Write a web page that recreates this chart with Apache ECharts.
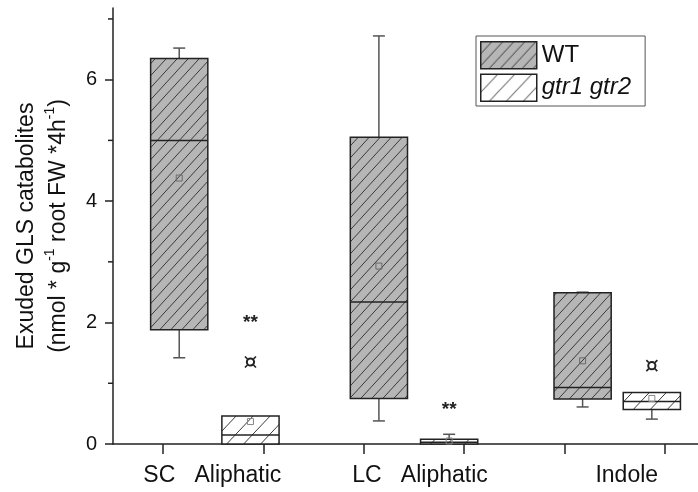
<!DOCTYPE html>
<html>
<head>
<meta charset="utf-8">
<script src="https://cdn.jsdelivr.net/npm/echarts@6/dist/echarts.min.js"></script>
<style>
html, body { margin: 0; padding: 0; background: #fff; }
#chart { width: 698px; height: 492px; }
</style>
</head>
<body>
<div id="chart"></div>
<script>
// Kategorien und Positionen auf der x-Achse (Achseneinheiten)
var categories = ['SC   Aliphatic', 'LC   Aliphatic', 'Indole'];
var seriesNames = ['WT', 'gtr1 gtr2'];
var wtPos = [0.66, 2.65, 4.68];
var gtrPos = [1.37, 3.35, 5.37];
var labelPos = [0.99, 3.06, 5.12];
var xTicks = [0.5, 1.5, 2.5, 3.5, 4.5, 5.5];
var yLabels = [0, 2, 4, 6];
var yMinor = [1, 3, 5, 7];

// Boxplot-Werte: min, Q1, Median, Q3, max, Mittelwert
var wtMin = [1.42, 0.38, 0.61];
var wtQ1 = [1.88, 0.75, 0.74];
var wtMed = [5.0, 2.34, 0.93];
var wtQ3 = [6.35, 5.05, 2.49];
var wtMax = [6.52, 6.72, 2.50];
var wtMean = [4.38, 2.93, 1.37];

var gtrMin = [0, 0, 0.41];
var gtrQ1 = [0, 0, 0.57];
var gtrMed = [0.15, 0.03, 0.70];
var gtrQ3 = [0.46, 0.08, 0.85];
var gtrMax = [0.46, 0.16, 0.85];
var gtrMean = [0.37, 0.05, 0.75];

// Ausreisser und Signifikanz-Sterne
var outlierX = [1.37, 5.37];
var outlierY = [1.35, 1.29];
var starX = [1.37, 3.35];
var starY = [2.0, 0.56];

var FONT = 'Liberation Sans, Arial, sans-serif';

// Schraffur als Canvas-Muster
function hatch(bg, w, h, lineColor) {
	var c = document.createElement('canvas');
	c.width = w; c.height = h;
	var g = c.getContext('2d');
	g.fillStyle = bg;
	g.fillRect(0, 0, w, h);
	g.strokeStyle = lineColor;
	g.lineWidth = 1;
	g.beginPath();
	g.moveTo(0, h); g.lineTo(w, 0);
	g.moveTo(-w, h); g.lineTo(w, -h);
	g.moveTo(0, 2 * h); g.lineTo(2 * w, 0);
	g.stroke();
	return c;
}
var wtFill = { image: hatch('#b6b6b6', 11, 12, '#3a3a3a'), repeat: 'repeat' };
var gtrFill = { image: hatch('#ffffff', 17, 18, '#3a3a3a'), repeat: 'repeat' };

function boxData(pos, mn, q1, med, q3, mx, mean) {
	return pos.map(function (x, i) { return [x, mn[i], q1[i], med[i], q3[i], mx[i], mean[i]]; });
}

function makeBox(fill, meanColor) {
	return function (params, api) {
		var x = api.value(0);
		var pMin = api.coord([x, api.value(1)]);
		var pQ1 = api.coord([x, api.value(2)]);
		var pMed = api.coord([x, api.value(3)]);
		var pQ3 = api.coord([x, api.value(4)]);
		var pMax = api.coord([x, api.value(5)]);
		var pMean = api.coord([x, api.value(6)]);
		var half = api.size([0.57, 0])[0] / 2;
		var cap = 6;
		var wl = { stroke: '#555', lineWidth: 1.5 };
		var kids = [];
		if (pMax[1] < pQ3[1] - 0.5) {
			kids.push({ type: 'line', shape: { x1: pQ3[0], y1: pQ3[1], x2: pMax[0], y2: pMax[1] }, style: wl });
			kids.push({ type: 'line', shape: { x1: pMax[0] - cap, y1: pMax[1], x2: pMax[0] + cap, y2: pMax[1] }, style: wl });
		}
		if (pMin[1] > pQ1[1] + 0.5) {
			kids.push({ type: 'line', shape: { x1: pQ1[0], y1: pQ1[1], x2: pMin[0], y2: pMin[1] }, style: wl });
			kids.push({ type: 'line', shape: { x1: pMin[0] - cap, y1: pMin[1], x2: pMin[0] + cap, y2: pMin[1] }, style: wl });
		}
		kids.push({
			type: 'rect',
			shape: { x: pQ1[0] - half, y: pQ3[1], width: half * 2, height: pQ1[1] - pQ3[1] },
			style: { fill: fill, stroke: '#222', lineWidth: 1.5 }
		});
		kids.push({ type: 'line', shape: { x1: pMed[0] - half, y1: pMed[1], x2: pMed[0] + half, y2: pMed[1] }, style: { stroke: '#222', lineWidth: 1.5 } });
		kids.push({ type: 'rect', shape: { x: pMean[0] - 3, y: pMean[1] - 3, width: 6, height: 6 }, style: { fill: 'none', stroke: meanColor, lineWidth: 1 } });
		return { type: 'group', children: kids };
	};
}

function renderOutlier(params, api) {
	var p = api.coord([api.value(0), api.value(1)]);
	var st = { stroke: '#222', lineWidth: 1.6 };
	var kids = [{ type: 'circle', shape: { cx: p[0], cy: p[1], r: 3.6 }, style: { fill: 'none', stroke: '#222', lineWidth: 2 } }];
	[[1, 1], [1, -1], [-1, 1], [-1, -1]].forEach(function (d) {
		kids.push({ type: 'line', shape: { x1: p[0] + d[0] * 3, y1: p[1] + d[1] * 3, x2: p[0] + d[0] * 5.5, y2: p[1] + d[1] * 5.5 }, style: st });
	});
	return { type: 'group', children: kids };
}

function renderStar(params, api) {
	var p = api.coord([api.value(0), api.value(1)]);
	return { type: 'text', x: p[0], y: p[1], style: { text: '**', fontSize: 19, fontFamily: FONT, fontWeight: 'bold', fill: '#222', align: 'center', verticalAlign: 'middle' } };
}

// kurze Zwischenstriche an der y-Achse (bei x = 0, also auf der Achsenlinie)
function renderMinorTick(params, api) {
	var p = api.coord([0, api.value(0)]);
	return { type: 'line', shape: { x1: p[0] - 5, y1: p[1], x2: p[0], y2: p[1] }, style: { stroke: '#222', lineWidth: 1.5 } };
}

var chart = echarts.init(document.getElementById('chart'));

chart.setOption({
	animation: false,
	backgroundColor: '#fff',
	grid: { left: 113, right: 0, top: 8, bottom: 48 },
	legend: {
		orient: 'vertical',
		left: 476, top: 36,
		itemWidth: 56, itemHeight: 27, itemGap: 4,
		padding: [5, 14, 4, 4],
		borderColor: '#555', borderWidth: 1,
		selectedMode: false,
		data: [
			{ name: seriesNames[0], icon: 'rect', itemStyle: { color: wtFill, borderColor: '#222', borderWidth: 1.5 } },
			{ name: seriesNames[1], icon: 'rect', itemStyle: { color: gtrFill, borderColor: '#222', borderWidth: 1.5 } }
		],
		formatter: function (n) { return n === seriesNames[1] ? '{i|' + n + '}' : n; },
		textStyle: { fontSize: 24, fontFamily: FONT, color: '#111', rich: { i: { fontSize: 24, fontStyle: 'italic', fontFamily: FONT, color: '#111' } } }
	},
	xAxis: {
		type: 'value', min: 0, max: 5.83,
		axisLine: { lineStyle: { color: '#222', width: 1.5 } },
		axisTick: { customValues: xTicks, length: 10, lineStyle: { color: '#222', width: 1.5 } },
		axisLabel: {
			customValues: labelPos, margin: 20, fontSize: 23, fontFamily: FONT, color: '#111',
			formatter: function (v) {
				var best = 0;
				labelPos.forEach(function (p, i) { if (Math.abs(p - v) < Math.abs(labelPos[best] - v)) best = i; });
				return categories[best];
			}
		},
		splitLine: { show: false }
	},
	yAxis: {
		type: 'value', min: 0, max: 7.18,
		axisLine: { show: true, lineStyle: { color: '#222', width: 1.5 } },
		axisTick: { customValues: yLabels, length: 8, lineStyle: { color: '#222', width: 1.5 } },
		axisLabel: { customValues: yLabels, margin: 16, fontSize: 20, fontFamily: FONT, color: '#111' },
		splitLine: { show: false },
		name: '{t|Exuded GLS catabolites}\n{t|(nmol * g}{s|-1}{t| root FW *4h}{s|-1}{t|)}',
		nameLocation: 'middle', nameRotate: 90, nameGap: 38,
		nameTextStyle: {
			fontSize: 23, fontFamily: FONT, color: '#111', lineHeight: 32,
			rich: {
				t: { fontSize: 23, fontFamily: FONT, color: '#111', lineHeight: 32 },
				s: { fontSize: 14, fontFamily: FONT, color: '#111', lineHeight: 22, verticalAlign: 'top' }
			}
		}
	},
	series: [{
		name: seriesNames[0], type: 'custom', clip: false,
		itemStyle: { color: wtFill, borderColor: '#222' },
		renderItem: makeBox(wtFill, '#6a6a6a'),
		encode: { x: 0, y: [1, 2, 3, 4, 5] },
		data: boxData(wtPos, wtMin, wtQ1, wtMed, wtQ3, wtMax, wtMean)
	}, {
		name: seriesNames[1], type: 'custom', clip: false,
		itemStyle: { color: gtrFill, borderColor: '#222' },
		renderItem: makeBox(gtrFill, '#888'),
		encode: { x: 0, y: [1, 2, 3, 4, 5] },
		data: boxData(gtrPos, gtrMin, gtrQ1, gtrMed, gtrQ3, gtrMax, gtrMean)
	}, {
		name: 'outlier', type: 'custom', renderItem: renderOutlier,
		encode: { x: 0, y: 1 },
		data: outlierX.map(function (x, i) { return [x, outlierY[i]]; })
	}, {
		name: 'stars', type: 'custom', renderItem: renderStar,
		encode: { x: 0, y: 1 },
		data: starX.map(function (x, i) { return [x, starY[i]]; })
	}, {
		name: 'minorTicks', type: 'custom', clip: false, renderItem: renderMinorTick,
		encode: { y: 0 },
		data: yMinor.map(function (v) { return [v]; })
	}]
});
</script>
</body>
</html>
